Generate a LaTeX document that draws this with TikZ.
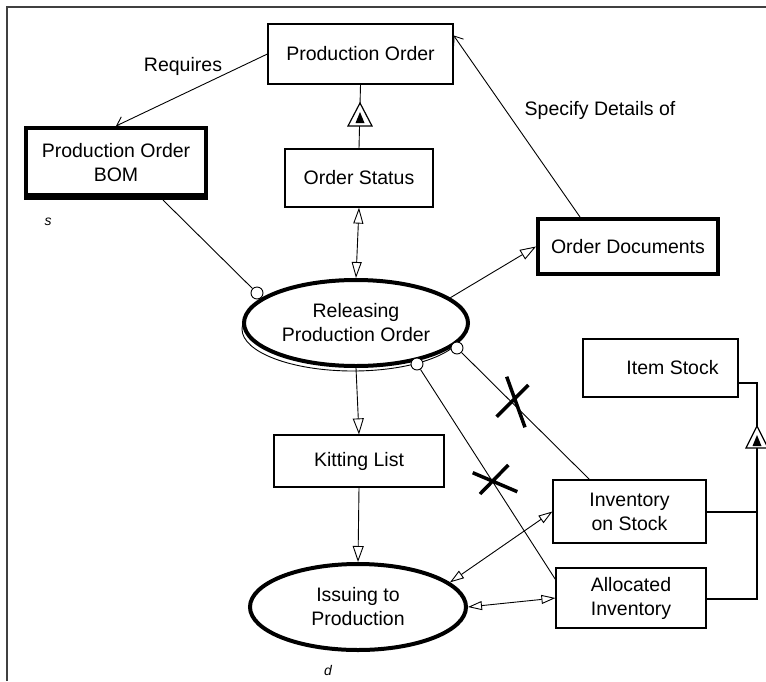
\documentclass[tikz,border=0pt]{standalone}
\usepackage{fontspec}
\setmainfont{Liberation Sans}
\usetikzlibrary{arrows.meta,shapes.geometric,calc}
\begin{document}
\begin{tikzpicture}[x=1pt,y=-1pt,
  every node/.style={font=\fontsize{19.5}{24}\selectfont, align=center, inner sep=0pt},
  box/.style={draw, rectangle, line width=1.2pt, fill=white},
  heavybox/.style={draw, rectangle, line width=4pt, fill=white},
  process/.style={draw, ellipse, line width=4pt, fill=white},
  link/.style={line width=0.9pt},
  bigtip/.style={line width=0.9pt, -{Triangle[open, length=16pt, width=11pt]}},
  bothtips/.style={line width=0.9pt, {Triangle[open, length=16pt, width=10pt]}-{Triangle[open, length=16pt, width=10pt]}},
  smalltips/.style={line width=0.9pt, {Triangle[open, length=14pt, width=9pt]}-{Triangle[open, length=14pt, width=9pt]}},
  barb/.style={line width=0.9pt, -{Straight Barb[length=8pt, width=12pt]}},
  knob/.style={draw, circle, line width=0.9pt, fill=white, minimum size=12pt},
  cross/.style={line width=3.5pt},
  note/.style={font=\fontsize{14}{16}\selectfont\itshape},
]
\useasboundingbox (0,0) rectangle (766,681);

% outer frame (left and top edges only)
\draw[line width=1.5pt, black!75] (7,681) -- (7,7) -- (766,7);

% boxes
\node[box, minimum width=185pt, minimum height=60pt] (po) at (360.5,54) {Production Order};
\node[heavybox, minimum width=180pt, minimum height=70pt] (bom) at (116,163) {Production Order\\BOM};
\fill ($(bom.south west)+(0,-7)$) rectangle (bom.south east);
\node[box, minimum width=148pt, minimum height=58pt] (os) at (359,178) {Order Status};
\node[heavybox, minimum width=180pt, minimum height=55pt] (od) at (628,246.5) {Order Documents};
\node[box, minimum width=170pt, minimum height=52pt] (kl) at (359,461) {Kitting List};
\node[box, minimum width=155pt, minimum height=58pt] (is) at (660.5,368) {\hspace*{24pt}Item Stock};
\node[box, minimum width=153pt, minimum height=63pt] (ios) at (629.5,511.5) {Inventory\\on Stock};
\node[box, minimum width=150pt, minimum height=60pt] (ai) at (631,598) {Allocated\\Inventory};

% processes
\draw[line width=0.9pt] (353,329) ellipse [x radius=111pt, y radius=42pt];
\node[process, minimum width=224pt, minimum height=86pt] (rel) at (356,323) {Releasing\\Production Order};
\node[process, minimum width=216pt, minimum height=86pt] (iss) at (358,607) {Issuing to\\Production};

% labels
\node (lreq) at (183,66) {Requires};
\node (lspec) at (600,110) {Specify Details of};
\node[note] (ls) at (48,222) {s};
\node[note] (ld) at (328,670) {d};

% associations
\draw[barb] (po.west) -- (bom.north);
\draw[barb] ($(od.north west)+(44,0)$) -- ($(po.north east)+(0,12)$);
\draw[bothtips] (os.south) -- (rel.north);
\draw[bigtip] (rel.15) -- (od.west);
\draw[bigtip] (rel.south) -- (kl.north);
\draw[bigtip] (kl.south) -- (iss.north);
\draw[smalltips] (iss.15) -- (ios.west);
\draw[smalltips] (iss.east) -- (ai.west);

% usage links ending in small circles on the process
\node[knob] (c1) at (257,293) {};
\node[knob] (c2) at (457,348) {};
\node[knob] (c3) at (417,364) {};
\draw[link] ($(bom.south east)+(-45,0)$) -- (c1);
\draw[link] ($(ios.north west)+(37,0)$) -- (c2);
\draw[link] ($(ai.north west)+(0,12)$) -- (c3);

% crossed-out links
\draw[cross] (496.7,416.7) -- (528.3,385) (506.7,376.7) -- (525,427.3);
\draw[cross] (472.7,472.7) -- (517.3,491.7) (508.3,465) -- (480,494);

% generalization: Order Status -> Production Order
\draw[link] (os.north) -- (po.south);
\draw[line width=1.2pt, fill=white] (348,126) -- (360,103) -- (372,126) -- cycle;
\fill (355.5,123) -- (360,112) -- (364.5,123) -- cycle;

% generalization: stock kinds -> Item Stock
\coordinate (trunktop) at (757,383);
\coordinate (trunkmid) at (757,512);
\coordinate (trunkbot) at (757,599);
\draw[line width=1.2pt] ($(is.east)+(0,15)$) -- (trunktop) -- (trunkbot) -- (ai.east |- trunkbot);
\draw[line width=1.2pt] (ios.east |- trunkmid) -- (trunkmid);
\draw[line width=1.2pt, fill=white] (746,448) -- (757,426) -- (768,448) -- cycle;
\fill (752.5,446) -- (757,435) -- (761.5,446) -- cycle;
\end{tikzpicture}
\end{document}
